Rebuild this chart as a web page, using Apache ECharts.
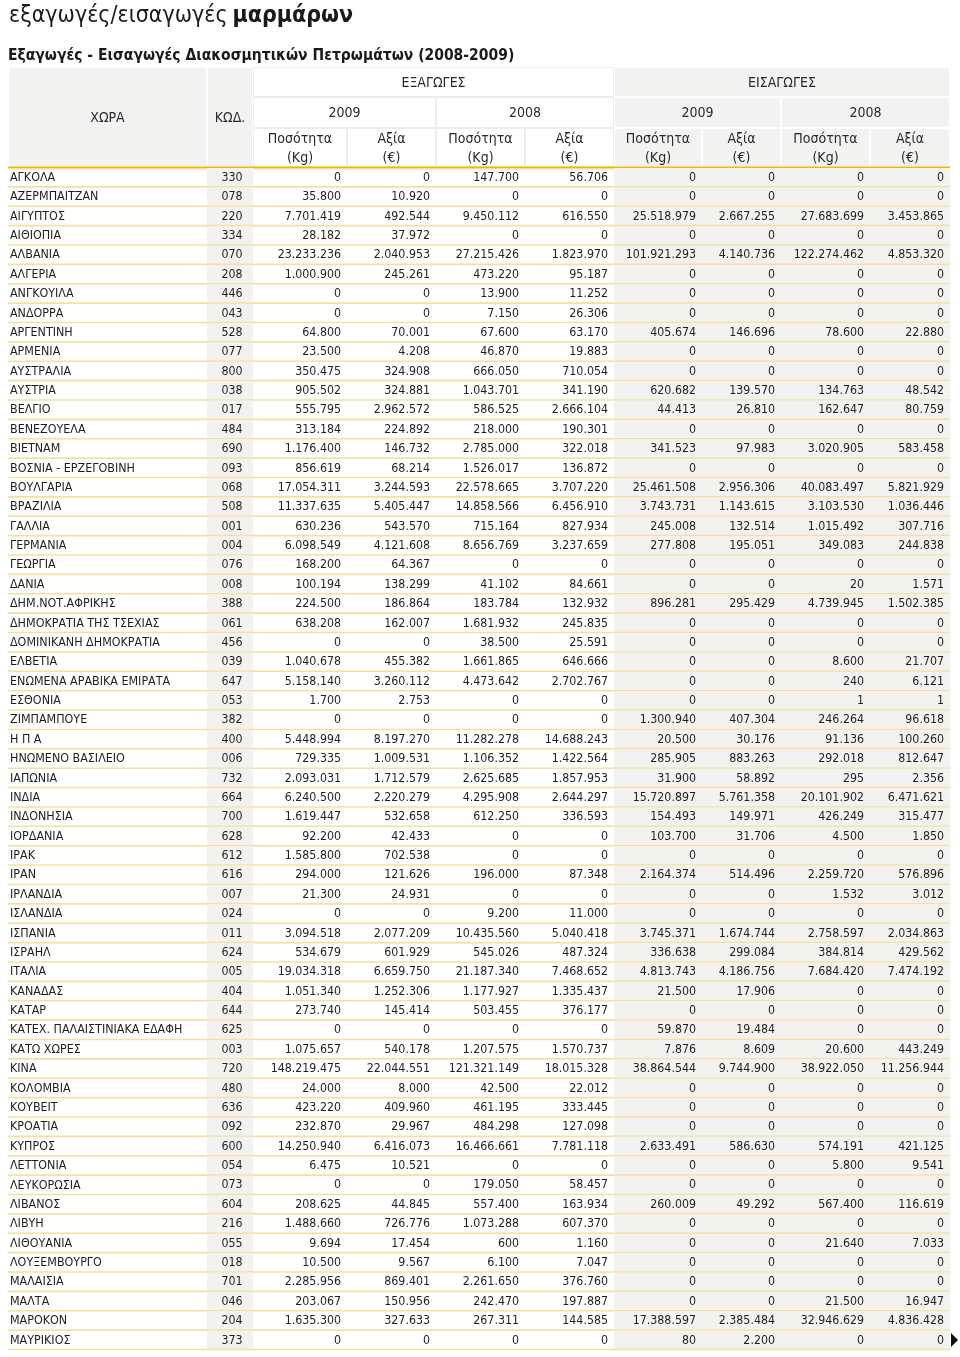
<!DOCTYPE html>
<html>
<head>
<meta charset="utf-8">
<script src="https://cdn.jsdelivr.net/npm/echarts@6/dist/echarts.min.js"></script>
<style>
html,body{margin:0;padding:0;background:#fff;}
#chart{width:960px;height:1357px;}
</style>
</head>
<body>
<div id="chart"></div>
<script>
// ---------------- DATA ----------------
const TITLE_MAIN = 'εξαγωγές/εισαγωγές';
const TITLE_BOLD = 'μαρμάρων';
const SUBTITLE = 'Εξαγωγές - Εισαγωγές Διακοσμητικών Πετρωμάτων (2008-2009)';
const HEAD_COUNTRY = 'ΧΩΡΑ';
const HEAD_CODE = 'ΚΩΔ.';
const GROUP_LABELS = ['ΕΞΑΓΩΓΕΣ', 'ΕΙΣΑΓΩΓΕΣ'];
const YEAR_LABELS = ['2009', '2008'];
const MEASURE_LABELS = ['Ποσότητα\n(Kg)', 'Αξία\n(€)'];

const COUNTRIES = ['ΑΓΚΟΛΑ','ΑΖΕΡΜΠΑΙΤΖΑΝ','ΑΙΓΥΠΤΟΣ','ΑΙΘΙΟΠΙΑ','ΑΛΒΑΝΙΑ','ΑΛΓΕΡΙΑ','ΑΝΓΚΟΥΙΛΑ','ΑΝΔΟΡΡΑ','ΑΡΓΕΝΤΙΝΗ','ΑΡΜΕΝΙΑ',
'ΑΥΣΤΡΑΛΙΑ','ΑΥΣΤΡΙΑ','ΒΕΛΓΙΟ','ΒΕΝΕΖΟΥΕΛΑ','ΒΙΕΤΝΑΜ','ΒΟΣΝΙΑ - ΕΡΖΕΓΟΒΙΝΗ','ΒΟΥΛΓΑΡΙΑ','ΒΡΑΖΙΛΙΑ','ΓΑΛΛΙΑ','ΓΕΡΜΑΝΙΑ',
'ΓΕΩΡΓΙΑ','ΔΑΝΙΑ','ΔΗΜ.ΝΟΤ.ΑΦΡΙΚΗΣ','ΔΗΜΟΚΡΑΤΙΑ ΤΗΣ ΤΣΕΧΙΑΣ','ΔΟΜΙΝΙΚΑΝΗ ΔΗΜΟΚΡΑΤΙΑ','ΕΛΒΕΤΙΑ','ΕΝΩΜΕΝΑ ΑΡΑΒΙΚΑ ΕΜΙΡΑΤΑ','ΕΣΘΟΝΙΑ','ΖΙΜΠΑΜΠΟΥΕ','Η Π Α',
'ΗΝΩΜΕΝΟ ΒΑΣΙΛΕΙΟ','ΙΑΠΩΝΙΑ','ΙΝΔΙΑ','ΙΝΔΟΝΗΣΙΑ','ΙΟΡΔΑΝΙΑ','ΙΡΑΚ','ΙΡΑΝ','ΙΡΛΑΝΔΙΑ','ΙΣΛΑΝΔΙΑ','ΙΣΠΑΝΙΑ',
'ΙΣΡΑΗΛ','ΙΤΑΛΙΑ','ΚΑΝΑΔΑΣ','ΚΑΤΑΡ','ΚΑΤΕΧ. ΠΑΛΑΙΣΤΙΝΙΑΚΑ ΕΔΑΦΗ','ΚΑΤΩ ΧΩΡΕΣ','ΚΙΝΑ','ΚΟΛΟΜΒΙΑ','ΚΟΥΒΕΙΤ','ΚΡΟΑΤΙΑ',
'ΚΥΠΡΟΣ','ΛΕΤΤΟΝΙΑ','ΛΕΥΚΟΡΩΣΙΑ','ΛΙΒΑΝΟΣ','ΛΙΒΥΗ','ΛΙΘΟΥΑΝΙΑ','ΛΟΥΞΕΜΒΟΥΡΓΟ','ΜΑΛΑΙΣΙΑ','ΜΑΛΤΑ','ΜΑΡΟΚΟΝ','ΜΑΥΡΙΚΙΟΣ'];

const CODES = ['330','078','220','334','070','208','446','043','528','077',
'800','038','017','484','690','093','068','508','001','004',
'076','008','388','061','456','039','647','053','382','400',
'006','732','664','700','628','612','616','007','024','011',
'624','005','404','644','625','003','720','480','636','092',
'600','054','073','604','216','055','018','701','046','204','373'];

const EXP_2009_QTY = [0,35800,7701419,28182,23233236,1000900,0,0,64800,23500,
350475,905502,555795,313184,1176400,856619,17054311,11337635,630236,6098549,
168200,100194,224500,638208,0,1040678,5158140,1700,0,5448994,
729335,2093031,6240500,1619447,92200,1585800,294000,21300,0,3094518,
534679,19034318,1051340,273740,0,1075657,148219475,24000,423220,232870,
14250940,6475,0,208625,1488660,9694,10500,2285956,203067,1635300,0];

const EXP_2009_VAL = [0,10920,492544,37972,2040953,245261,0,0,70001,4208,
324908,324881,2962572,224892,146732,68214,3244593,5405447,543570,4121608,
64367,138299,186864,162007,0,455382,3260112,2753,0,8197270,
1009531,1712579,2220279,532658,42433,702538,121626,24931,0,2077209,
601929,6659750,1252306,145414,0,540178,22044551,8000,409960,29967,
6416073,10521,0,44845,726776,17454,9567,869401,150956,327633,0];

const EXP_2008_QTY = [147700,0,9450112,0,27215426,473220,13900,7150,67600,46870,
666050,1043701,586525,218000,2785000,1526017,22578665,14858566,715164,8656769,
0,41102,183784,1681932,38500,1661865,4473642,0,0,11282278,
1106352,2625685,4295908,612250,0,0,196000,0,9200,10435560,
545026,21187340,1177927,503455,0,1207575,121321149,42500,461195,484298,
16466661,0,179050,557400,1073288,600,6100,2261650,242470,267311,0];

const EXP_2008_VAL = [56706,0,616550,0,1823970,95187,11252,26306,63170,19883,
710054,341190,2666104,190301,322018,136872,3707220,6456910,827934,3237659,
0,84661,132932,245835,25591,646666,2702767,0,0,14688243,
1422564,1857953,2644297,336593,0,0,87348,0,11000,5040418,
487324,7468652,1335437,376177,0,1570737,18015328,22012,333445,127098,
7781118,0,58457,163934,607370,1160,7047,376760,197887,144585,0];

const IMP_2009_QTY = [0,0,25518979,0,101921293,0,0,0,405674,0,
0,620682,44413,0,341523,0,25461508,3743731,245008,277808,
0,0,896281,0,0,0,0,0,1300940,20500,
285905,31900,15720897,154493,103700,0,2164374,0,0,3745371,
336638,4813743,21500,0,59870,7876,38864544,0,0,0,
2633491,0,0,260009,0,0,0,0,0,17388597,80];

const IMP_2009_VAL = [0,0,2667255,0,4140736,0,0,0,146696,0,
0,139570,26810,0,97983,0,2956306,1143615,132514,195051,
0,0,295429,0,0,0,0,0,407304,30176,
883263,58892,5761358,149971,31706,0,514496,0,0,1674744,
299084,4186756,17906,0,19484,8609,9744900,0,0,0,
586630,0,0,49292,0,0,0,0,0,2385484,2200];

const IMP_2008_QTY = [0,0,27683699,0,122274462,0,0,0,78600,0,
0,134763,162647,0,3020905,0,40083497,3103530,1015492,349083,
0,20,4739945,0,0,8600,240,1,246264,91136,
292018,295,20101902,426249,4500,0,2259720,1532,0,2758597,
384814,7684420,0,0,0,20600,38922050,0,0,0,
574191,5800,0,567400,0,21640,0,0,21500,32946629,0];

const IMP_2008_VAL = [0,0,3453865,0,4853320,0,0,0,22880,0,
0,48542,80759,0,583458,0,5821929,1036446,307716,244838,
0,1571,1502385,0,0,21707,6121,1,96618,100260,
812647,2356,6471621,315477,1850,0,576896,3012,0,2034863,
429562,7474192,0,0,0,443249,11256944,0,0,0,
421125,9541,0,116619,0,7033,0,0,16947,4836428,0];

const VALUE_COLUMNS = [EXP_2009_QTY, EXP_2009_VAL, EXP_2008_QTY, EXP_2008_VAL,
                       IMP_2009_QTY, IMP_2009_VAL, IMP_2008_QTY, IMP_2008_VAL];

// ---------------- LAYOUT (not data) ----------------
const COL_EDGES = [0, 199, 245, 339, 428, 517, 606, 694, 773, 862, 942];
const HEAD_ROW_EDGES = [0, 30, 61, 100];
const TABLE_W = COL_EDGES[COL_EDGES.length - 1];
const GREY = '#f2f2f0';
const FONT = '"DejaVu Sans Condensed", "DejaVu Sans", sans-serif';

function fmt(n) { return String(n).replace(/\B(?=(\d{3})+(?!\d))/g, '.'); }

// header cells: [colStart, colEnd, rowStart, rowEnd, text, grey]
function headerCells() {
  const cells = [];
  cells.push([0, 1, 0, 3, HEAD_COUNTRY, true]);
  cells.push([1, 2, 0, 3, HEAD_CODE, true]);
  GROUP_LABELS.forEach((g, gi) => {
    const c0 = 2 + gi * 4;
    cells.push([c0, c0 + 4, 0, 1, g, gi === 1]);
    YEAR_LABELS.forEach((y, yi) => {
      const c1 = c0 + yi * 2;
      cells.push([c1, c1 + 2, 1, 2, y, gi === 1]);
      MEASURE_LABELS.forEach((m, mi) => {
        cells.push([c1 + mi, c1 + mi + 1, 2, 3, m, gi === 1]);
      });
    });
  });
  return cells;
}
const HEADER = headerCells();

function renderHeader(params, api) {
  const cell = HEADER[params.dataIndex];
  const p0 = api.coord([COL_EDGES[cell[0]], HEAD_ROW_EDGES[cell[2]]]);
  const p1 = api.coord([COL_EDGES[cell[1]], HEAD_ROW_EDGES[cell[3]]]);
  const x = p0[0], y = p0[1], w = p1[0] - p0[0], h = p1[1] - p0[1];
  const children = [];
  if (cell[5]) {
    children.push({type: 'rect', shape: {x: x + 1, y: y + 1, width: w - 2, height: h - 2}, style: {fill: GREY}});
  } else {
    children.push({type: 'rect', shape: {x: x + 0.5, y: y + 0.5, width: w - 1, height: h - 1}, style: {fill: '#fff', stroke: '#ededed', lineWidth: 1}});
  }
  children.push({type: 'text', style: {text: cell[4], x: x + w / 2, y: y + h / 2 + 1, align: 'center', verticalAlign: 'middle',
    fontFamily: FONT, fontSize: 14, lineHeight: 19, fill: '#2a2a2a'}});
  if (params.dataIndex === HEADER.length - 1) {
    const a = api.coord([0, HEAD_ROW_EDGES[3]]);
    const b = api.coord([TABLE_W, HEAD_ROW_EDGES[3]]);
    children.push({type: 'line', shape: {x1: a[0], y1: a[1] + 0.5, x2: b[0], y2: b[1] + 0.5}, style: {stroke: '#f2b705', lineWidth: 2}});
    children.push({type: 'line', shape: {x1: a[0], y1: a[1] + 2, x2: b[0], y2: b[1] + 2}, style: {stroke: '#f9e29a', lineWidth: 1}});
  }
  return {type: 'group', children: children};
}

function renderRow(params, api) {
  const i = api.value(1);
  const c = api.coord([0, i]);
  const h = api.size([0, 1])[1];
  const top = c[1] - h / 2, mid = c[1];
  const X = (e) => api.coord([COL_EDGES[e], i])[0];
  const children = [];
  children.push({type: 'rect', shape: {x: X(1), y: top, width: X(2) - X(1), height: h}, style: {fill: GREY}});
  children.push({type: 'rect', shape: {x: X(6), y: top, width: X(10) - X(6), height: h}, style: {fill: GREY}});
  children.push({type: 'line', shape: {x1: X(0), y1: top + h - 0.5, x2: X(10), y2: top + h - 0.5}, style: {stroke: '#f4e0a0', lineWidth: 1.6}});
  children.push({type: 'text', style: {text: COUNTRIES[i], x: X(0) + 2, y: mid, align: 'left', verticalAlign: 'middle',
    fontFamily: FONT, fontSize: 12.4, fill: '#1e1e1e'}});
  children.push({type: 'text', style: {text: CODES[i], x: (X(1) + X(2)) / 2 + 2, y: mid, align: 'center', verticalAlign: 'middle',
    fontFamily: FONT, fontSize: 12.3, fill: '#1e1e1e'}});
  VALUE_COLUMNS.forEach((col, k) => {
    children.push({type: 'text', style: {text: fmt(col[i]), x: X(k + 3) - 6, y: mid, align: 'right', verticalAlign: 'middle',
      fontFamily: FONT, fontSize: 12.3, fill: '#1e1e1e'}});
  });
  return {type: 'group', children: children};
}

const chart = echarts.init(document.getElementById('chart'), null, {renderer: 'canvas'});
chart.setOption({
  animation: false,
  backgroundColor: '#fff',
  title: [
    {text: '{a|' + TITLE_MAIN + '} {b|' + TITLE_BOLD + '}', left: 9, top: 5, padding: 0,
     textStyle: {rich: {a: {fontFamily: FONT, fontSize: 23, color: '#1a1a1a', fontWeight: 'normal'},
                        b: {fontFamily: FONT, fontSize: 23, color: '#1a1a1a', fontWeight: 'bold'}}}},
    {text: SUBTITLE, left: 8, top: 48, padding: 0, textStyle: {fontFamily: FONT, fontSize: 15.5, fontWeight: 'bold', color: '#1a1a1a'}}
  ],
  grid: [
    {left: 8, width: TABLE_W, top: 67, height: 100},
    {left: 8, width: TABLE_W, top: 168, bottom: 7}
  ],
  xAxis: [
    {type: 'value', gridIndex: 0, min: 0, max: TABLE_W, show: false},
    {type: 'value', gridIndex: 1, min: 0, max: TABLE_W, show: false}
  ],
  yAxis: [
    {type: 'value', gridIndex: 0, min: 0, max: 100, inverse: true, show: false},
    {type: 'category', gridIndex: 1, data: COUNTRIES, inverse: true, show: false}
  ],
  series: [
    {type: 'custom', xAxisIndex: 0, yAxisIndex: 0, renderItem: renderHeader,
     data: HEADER.map((h) => [COL_EDGES[h[0]], HEAD_ROW_EDGES[h[2]]]), encode: {x: 0, y: 1}, silent: true},
    {type: 'custom', xAxisIndex: 1, yAxisIndex: 1, renderItem: renderRow,
     data: COUNTRIES.map((c, i) => [0, i]), encode: {x: 0, y: 1}, silent: true}
  ],
  graphic: [
    {type: 'polygon', shape: {points: [[951, 1333], [958, 1340], [951, 1347]]}, style: {fill: '#111'}}
  ]
});
</script>
</body>
</html>
